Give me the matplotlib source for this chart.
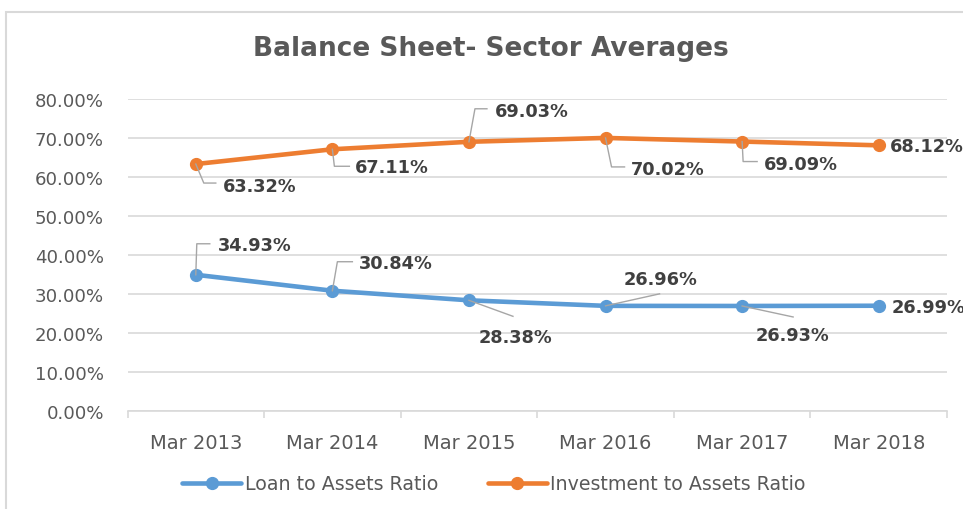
import numpy as np
import matplotlib
matplotlib.use("Agg")
import matplotlib.pyplot as plt
from matplotlib.lines import Line2D
from matplotlib.patches import Rectangle
from matplotlib.transforms import IdentityTransform
from matplotlib.ticker import FixedLocator

plt.rcParams['font.family'] = ['DejaVu Sans']

years = ["Mar 2013", "Mar 2014", "Mar 2015", "Mar 2016", "Mar 2017", "Mar 2018"]
loan_ratio = [34.93, 30.84, 28.38, 26.96, 26.93, 26.99]
invest_ratio = [63.32, 67.11, 69.03, 70.02, 69.09, 68.12]

blue = '#5B9BD5'
orange = '#ED7D31'

# label layout, pixel offsets from the marker (dy is downward)
invest_lbl = [([(0, 0), (8, 19), (20, 19)], (27, 22)),
              ([(0, 0), (2, 17), (17, 17)], (23, 18)),
              ([(0, 0), (6, -33), (18, -33)], (26, -31)),
              ([(0, 0), (6, 29), (19, 29)], (25, 31)),
              ([(0, 0), (1, 20), (15, 20)], (22, 22)),
              (None, (11, 1))]
loan_lbl = [([(0, 0), (1, -31), (14, -31)], (22, -30)),
            ([(0, 0), (5, -29), (20, -29)], (27, -28)),
            ([(0, 0), (44, 16)], (10, 37)),
            ([(0, 0), (54, -12)], (18, -27)),
            ([(0, 0), (51, 11)], (14, 29)),
            (None, (13, 1))]

W, H = 963, 510
fig = plt.figure(figsize=(W / 100, H / 100), dpi=100)
ax = fig.add_axes([127.5 / W, 1 - 412 / H, 819.5 / W, 312 / H])

x = np.arange(len(years))
ax.plot(x, np.array(loan_ratio) / 100, color=blue, lw=3.3, marker='o', ms=8.5,
        label="Loan to Assets Ratio", zorder=3, solid_capstyle='round')
ax.plot(x, np.array(invest_ratio) / 100, color=orange, lw=3.3, marker='o', ms=8.5,
        label="Investment to Assets Ratio", zorder=3, solid_capstyle='round')

ax.set_xlim(-0.5, len(years) - 0.5)
ax.set_ylim(0, 0.8)
ax.set_yticks(np.arange(0, 0.81, 0.1))
ax.set_yticklabels(["%.2f%%" % (v * 100) for v in np.arange(0, 0.81, 0.1)])
ax.set_xticks(x)
ax.set_xticklabels(years)
ax.xaxis.set_minor_locator(FixedLocator(np.arange(-0.5, len(years), 1.0)))
ax.tick_params(axis='y', length=0, pad=17, labelsize=13.1, labelcolor='#595959')
ax.tick_params(axis='x', which='major', length=0, pad=16, labelsize=14, labelcolor='#595959')
ax.tick_params(axis='x', which='minor', length=5, width=1.2, color='#D9D9D9')
ax.grid(axis='y', color='#D9D9D9', lw=1.2)
ax.set_axisbelow(True)
for s in ['left', 'right', 'top']:
    ax.spines[s].set_visible(False)
ax.spines['bottom'].set_color('#D9D9D9')
ax.spines['bottom'].set_linewidth(1.2)


def put_labels(vals, layout):
    for i, (v, (leader, (tx, ty))) in enumerate(zip(vals, layout)):
        px, py = ax.transData.transform((i, v / 100))
        if leader is not None:
            xs = [px + dx for dx, dy in leader]
            ys = [py - dy for dx, dy in leader]
            fig.add_artist(Line2D(xs, ys, transform=IdentityTransform(),
                                  color='#A6A6A6', lw=1.0, zorder=5))
        fig.text(px + tx, py - ty, "%.2f%%" % v, transform=IdentityTransform(),
                 ha='left', va='center', fontsize=12.8, fontweight='bold',
                 color='#404040', zorder=6)


put_labels(invest_ratio, invest_lbl)
put_labels(loan_ratio, loan_lbl)

fig.text(491 / W, 1 - 49 / H, "Balance Sheet- Sector Averages", ha='center', va='center',
         fontsize=19, fontweight='bold', color='#595959')

fig.legend(loc='center', bbox_to_anchor=(494 / W, 1 - 485 / H), ncol=2, frameon=False,
           fontsize=13.7, handlelength=3.1, handletextpad=0.2, columnspacing=2.6,
           labelcolor='#595959')

fig.add_artist(Rectangle((6 / W, -0.1), 2, 1 - 13 / H + 0.1, transform=fig.transFigure,
                         fill=False, ec='#D9D9D9', lw=1.5))

fig.savefig("out.png", dpi=100)
